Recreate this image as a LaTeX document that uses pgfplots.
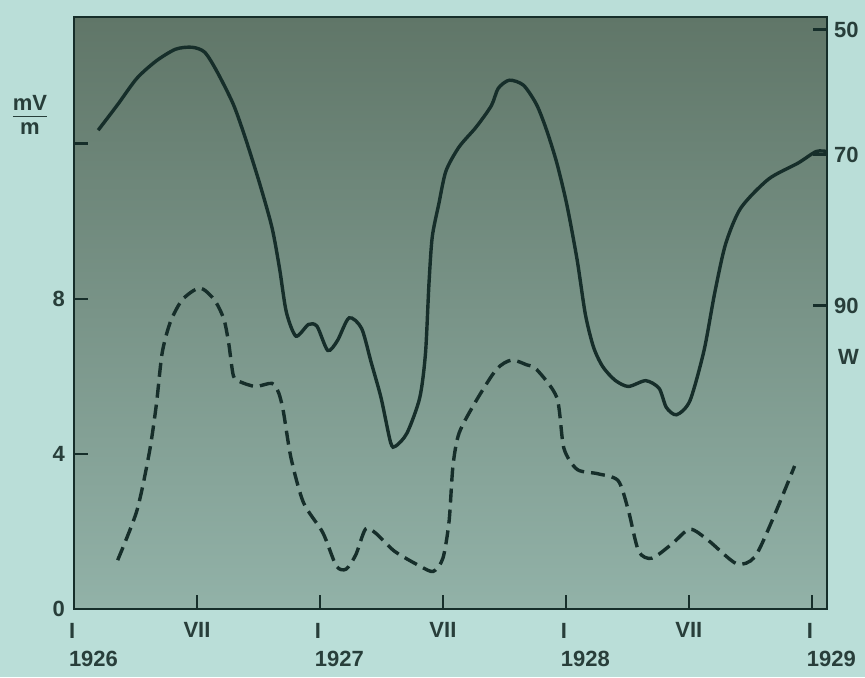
\documentclass[border=0pt]{standalone}
\usepackage{fontspec}
\setmainfont{Liberation Sans}
\setsansfont{Liberation Sans}
\usepackage{pgfplots}
\usepackage{pgfplotstable}
\pgfplotsset{compat=1.18}
\usetikzlibrary{backgrounds}
\definecolor{outerbg}{RGB}{186,222,216}
\definecolor{bgtop}{RGB}{96,118,104}
\definecolor{bgbot}{RGB}{146,178,168}
\definecolor{ink}{RGB}{22,46,42}
\definecolor{txt}{RGB}{40,62,58}

\pgfplotstableread{
x y
1.18 12.35
2.13 13.01
3.07 13.69
4.02 14.14
4.96 14.44
5.76 14.49
6.38 14.36
6.98 13.86
7.78 13.01
8.39 12.10
9.05 10.99
9.66 9.84
10.03 8.78
10.36 7.66
10.83 7.04
11.44 7.34
11.86 7.29
12.38 6.67
12.85 6.92
13.42 7.51
14.03 7.24
14.50 6.36
14.98 5.45
15.45 4.29
15.69 4.20
16.25 4.54
16.87 5.45
17.15 6.60
17.32 8.40
17.48 9.60
17.80 10.45
18.15 11.30
18.79 11.92
19.62 12.43
20.36 12.98
20.70 13.43
21.24 13.64
21.93 13.51
22.57 13.01
23.06 12.35
23.56 11.50
24.05 10.42
24.55 9.00
24.95 7.60
25.35 6.75
25.80 6.25
26.40 5.90
27.05 5.74
27.90 5.89
28.55 5.69
28.90 5.20
29.40 5.01
30.05 5.37
30.74 6.67
31.26 8.15
31.79 9.41
32.53 10.34
33.89 11.09
35.32 11.50
36.21 11.80
36.74 11.80
}\solid

\pgfplotstableread{
x y
2.13 1.26
3.07 2.54
3.68 4.05
4.02 5.28
4.30 6.60
4.70 7.40
5.29 7.98
6.14 8.28
6.84 7.98
7.31 7.48
7.55 6.85
7.78 6.01
8.11 5.86
8.86 5.74
9.66 5.82
9.99 5.57
10.22 5.08
10.59 3.89
11.20 2.74
12.14 1.97
12.80 1.11
13.28 1.03
13.75 1.40
14.22 2.06
14.69 1.97
15.64 1.49
16.87 1.11
17.53 0.97
18.00 1.31
18.30 2.26
18.49 3.69
18.79 4.54
19.62 5.37
20.61 6.18
21.34 6.42
22.08 6.30
22.57 6.18
23.56 5.45
23.90 4.15
24.55 3.60
25.55 3.49
26.55 3.31
27.05 2.54
27.55 1.49
28.20 1.31
29.20 1.69
30.05 2.06
30.95 1.77
32.32 1.17
33.21 1.34
34.11 2.34
35.16 3.69
}\dashed

\newcommand{\yr}[1]{\makebox[0pt][l]{\hspace{-2.5pt}\begin{tabular}{@{}l@{}}I\\[2pt]#1\end{tabular}}}

\begin{document}
\begin{tikzpicture}[show background rectangle, inner frame sep=0pt,
  background rectangle/.style={fill=outerbg,draw=none}]
\begin{axis}[
  scale only axis, width=376.5pt, height=296pt,
  xmin=0, xmax=36.74, ymin=0, ymax=15.27,
  axis line style={ink, line width=1.4pt},
  axis background/.style={top color=bgtop, bottom color=bgbot},
  xtick={0,6,12,18,24,30,36},
  xticklabels={\yr{1926},VII,\yr{1927},VII,\yr{1928},VII,\yr{1929}},
  ytick={0,4,8,12},
  yticklabels={0,4,8,{}},
  xtick pos=bottom, ytick pos=left,
  tick align=inside,
  major tick length=7pt,
  tick style={ink, line width=1.3pt},
  ticklabel style={font=\bfseries\fontsize{11}{12}\selectfont, text=txt},
  xticklabel style={anchor=north, yshift=-3pt},
  yticklabel style={xshift=-1pt},
  clip=false,
]
\addplot[ink, line width=1.7pt, smooth, tension=0.45] table {\solid};
\addplot[ink, line width=1.7pt, smooth, tension=0.45, dash pattern=on 7pt off 3.5pt] table {\dashed};
\node[text=txt, font=\bfseries\fontsize{11}{12}\selectfont, inner sep=0pt] at (axis description cs:0,0.83) [xshift=-22pt]
  {\begin{tabular}{@{}c@{}}mV\\[-1pt]\hline\rule{0pt}{9pt}m\end{tabular}};
\node[text=txt, font=\bfseries\fontsize{11}{12}\selectfont, anchor=west] at (axis description cs:1,0.425) [xshift=2pt] {W};
\end{axis}
\begin{axis}[
  scale only axis, width=376.5pt, height=296pt,
  xmin=0, xmax=36.74, ymin=0, ymax=15.27,
  axis line style={draw=none},
  xtick=\empty,
  ytick={7.83,11.72,14.94},
  yticklabels={90,70,50},
  ytick pos=right, yticklabel pos=right,
  tick align=inside,
  major tick length=7pt,
  tick style={ink, line width=1.3pt},
  ticklabel style={font=\bfseries\fontsize{11}{12}\selectfont, text=txt},
]
\end{axis}
\pgfresetboundingbox
\path (current axis.south west) ++(-37pt,-34pt) coordinate (bl);
\path (current axis.north east) ++(19pt,8.5pt) coordinate (tr);
\path[use as bounding box] (bl) rectangle (tr);
\end{tikzpicture}
\end{document}
